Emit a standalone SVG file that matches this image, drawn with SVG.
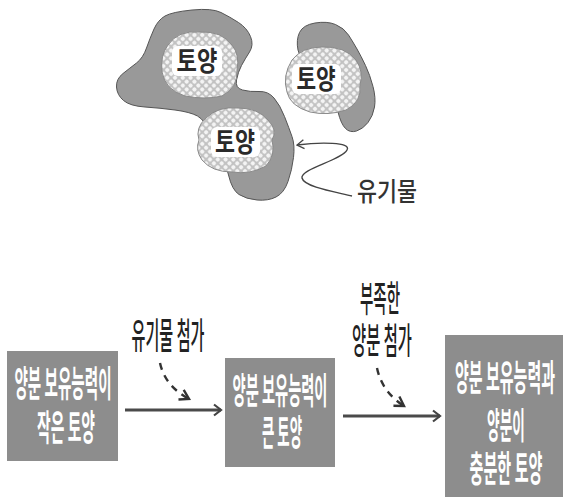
<svg xmlns="http://www.w3.org/2000/svg" width="563" height="499" viewBox="0 0 563 499">
  <defs>
    <!-- speckled texture used inside each soil particle -->
    <pattern id="grain" width="5.5" height="5.5" patternUnits="userSpaceOnUse" patternTransform="rotate(45)">
      <rect width="5.5" height="5.5" fill="#c2c2c2"/>
      <circle cx="2.75" cy="2.75" r="2.1" fill="#f4f4f4"/>
    </pattern>
    <marker id="chevron" markerUnits="userSpaceOnUse" markerWidth="12" markerHeight="14" refX="9" refY="7" orient="auto">
      <path d="M2,1.5 L9,7 L2,12.5" fill="none" stroke="#444" stroke-width="2.2" stroke-linejoin="miter"/>
    </marker>
    <marker id="dashhead" markerUnits="userSpaceOnUse" markerWidth="14" markerHeight="14" refX="10" refY="7" orient="auto">
      <path d="M1,1.5 L10,7 L1,12.5" fill="none" stroke="#333" stroke-width="2.4"/>
    </marker>
    <marker id="tick" markerUnits="userSpaceOnUse" markerWidth="12" markerHeight="12" refX="1" refY="6" orient="auto">
      <path d="M8,1.5 L1,6 L8,10.5" fill="none" stroke="#444" stroke-width="1.3"/>
    </marker>
    <style>
      .humus { fill: #999999; stroke: #555; stroke-width: 1; }
      .soil { fill: url(#grain); stroke: #8a8a8a; stroke-width: 1; }
      .patch { fill: #ffffff; }
      .soil-label { font-family: "Noto Sans CJK KR", "Noto Sans", sans-serif; font-weight: 700; font-size: 27px; fill: #2a2a2a; text-anchor: middle; }
      .box { fill: #8d8d8d; }
      .box-text { font-family: "Noto Sans CJK KR", "Noto Sans", sans-serif; font-weight: 700; font-size: 36px; fill: #ffffff; text-anchor: middle; }
      .note { font-family: "Noto Sans CJK KR", "Noto Sans", sans-serif; font-weight: 500; font-size: 36px; fill: #222; text-anchor: middle; }
      .pointer-text { font-family: "Noto Sans CJK KR", "Noto Sans", sans-serif; font-weight: 500; font-size: 26px; fill: #333; text-anchor: middle; }
      .flow { fill: none; stroke: #4a4a4a; stroke-width: 3; }
      .hint { fill: none; stroke: #333; stroke-width: 2.4; stroke-dasharray: 7 6; }
      .pointer { fill: none; stroke: #444; stroke-width: 1.4; }
    </style>
  </defs>

  <rect width="563" height="499" fill="#ffffff"/>

  <!-- organic matter coating the particles -->
  <g id="humus">
    <path class="humus" d="M165,16 Q172,12 192,10 Q212,8 221,12.5 Q230,17 238.5,22.5 Q247,28 250.5,36.5 Q254,45 249.5,52 Q245,59 241.5,65.5 Q238,72 236.5,80 Q235,88 242.5,90 Q250,92 259,91.5 Q268,91 274,98 Q280,105 284.5,116.5 Q289,128 292,136.5 Q295,145 293.5,157.5 Q292,170 288,181.5 Q284,193 276,197 Q268,201 257,200 Q246,199 239,194.5 Q232,190 228.5,175 Q225,160 215,140 Q205,120 197.5,116 Q190,112 175,110 Q160,108 145,107 Q130,106 123.5,100.5 Q117,95 116.5,87 Q116,79 123,73.5 Q130,68 136.5,63 Q143,58 146.5,48 Q150,38 154,29 Q158,20 165,16 Z"/>
    <path class="humus" d="M299.5,32.5 Q303,25 315,23 Q327,21 335.5,24.5 Q344,28 348.5,35 Q353,42 357,49 Q361,56 365.5,65.5 Q370,75 373,86.5 Q376,98 374.5,107 Q373,116 368,122.5 Q363,129 356.5,131 Q350,133 345.5,128.5 Q341,124 338,112 Q335,100 317.5,80 Q300,60 298,50 Q296,40 299.5,32.5 Z"/>
  </g>

  <!-- soil particles -->
  <g id="soil-1">
    <path class="soil" d="M168,45 Q178,30 200,32 Q222,31 232,45 Q240,55 237,70 Q238,88 222,96 Q205,100 185,96 Q165,90 162,72 Q160,55 168,45 Z"/>
    <rect class="patch" x="172" y="46" width="50" height="30" rx="6"/>
    <text class="soil-label" transform="translate(197,71) scale(0.8,1)" textLength="51" lengthAdjust="spacingAndGlyphs">토양</text>
  </g>
  <g id="soil-2">
    <path class="soil" d="M292,60 Q302,47 322,47 Q345,46 356,60 Q364,72 360,85 Q362,102 346,110 Q328,116 310,112 Q290,106 287,92 Q282,76 292,60 Z"/>
    <rect class="patch" x="292" y="64" width="49" height="30" rx="6"/>
    <text class="soil-label" transform="translate(316,89) scale(0.8,1)" textLength="49" lengthAdjust="spacingAndGlyphs">토양</text>
  </g>
  <g id="soil-3">
    <path class="soil" d="M206,118 Q218,106 238,108 Q258,108 268,120 Q278,130 272,140 Q276,155 266,166 Q250,175 232,172 Q212,172 202,160 Q195,150 199,140 Q195,128 206,118 Z"/>
    <rect class="patch" x="211" y="127" width="49" height="30" rx="6"/>
    <text class="soil-label" transform="translate(235,152) scale(0.8,1)" textLength="50" lengthAdjust="spacingAndGlyphs">토양</text>
  </g>

  <g id="organic-label">
    <text class="pointer-text" transform="translate(387,201) scale(0.8,1)" textLength="75" lengthAdjust="spacingAndGlyphs">유기물</text>
  </g>

  <!-- soil improvement stages; lettering is set in a narrow, tall cut -->
  <g id="stage-1">
    <rect class="box" x="7" y="351" width="111" height="110"/>
    <text class="box-text" transform="translate(63,397) scale(0.45,1)" textLength="216" lengthAdjust="spacingAndGlyphs">양분 보유능력이</text>
    <text class="box-text" transform="translate(66,441) scale(0.45,1)" textLength="129" lengthAdjust="spacingAndGlyphs">작은 토양</text>
  </g>
  <g id="stage-2">
    <rect class="box" x="225" y="358" width="110" height="109"/>
    <text class="box-text" transform="translate(280,404) scale(0.45,1)" textLength="211" lengthAdjust="spacingAndGlyphs">양분 보유능력이</text>
    <text class="box-text" transform="translate(282,446) scale(0.45,1)" textLength="89" lengthAdjust="spacingAndGlyphs">큰 토양</text>
  </g>
  <g id="stage-3">
    <rect class="box" x="445" y="335" width="118" height="162"/>
    <text class="box-text" transform="translate(505,391) scale(0.45,1)" textLength="222" lengthAdjust="spacingAndGlyphs">양분 보유능력과</text>
    <text class="box-text" transform="translate(506,439) scale(0.45,1)" textLength="84" lengthAdjust="spacingAndGlyphs">양분이</text>
    <text class="box-text" transform="translate(506,482) scale(0.45,1)" textLength="162" lengthAdjust="spacingAndGlyphs">충분한 토양</text>
  </g>

  <g id="step-labels">
    <text class="note" transform="translate(168,349) scale(0.45,1)" textLength="162" lengthAdjust="spacingAndGlyphs">유기물 첨가</text>
    <text class="note" transform="translate(380,312) scale(0.45,1)" textLength="89" lengthAdjust="spacingAndGlyphs">부족한</text>
    <text class="note" transform="translate(382,354) scale(0.45,1)" textLength="133" lengthAdjust="spacingAndGlyphs">양분 첨가</text>
  </g>

  <g id="connectors">
    <path class="pointer" marker-start="url(#tick)" d="M297,145 C320,142 352,142 347,150 C342,160 300,169 302,178 C304,187 336,192 352,196"/>
    <path class="flow" marker-end="url(#chevron)" d="M125,410 L221,410"/>
    <path class="flow" marker-end="url(#chevron)" d="M343,416 L440,416"/>
    <path class="hint" marker-end="url(#dashhead)" d="M160,363 Q165,386 189,399"/>
    <path class="hint" marker-end="url(#dashhead)" d="M377,368 Q382,392 404,406"/>
  </g>
</svg>
